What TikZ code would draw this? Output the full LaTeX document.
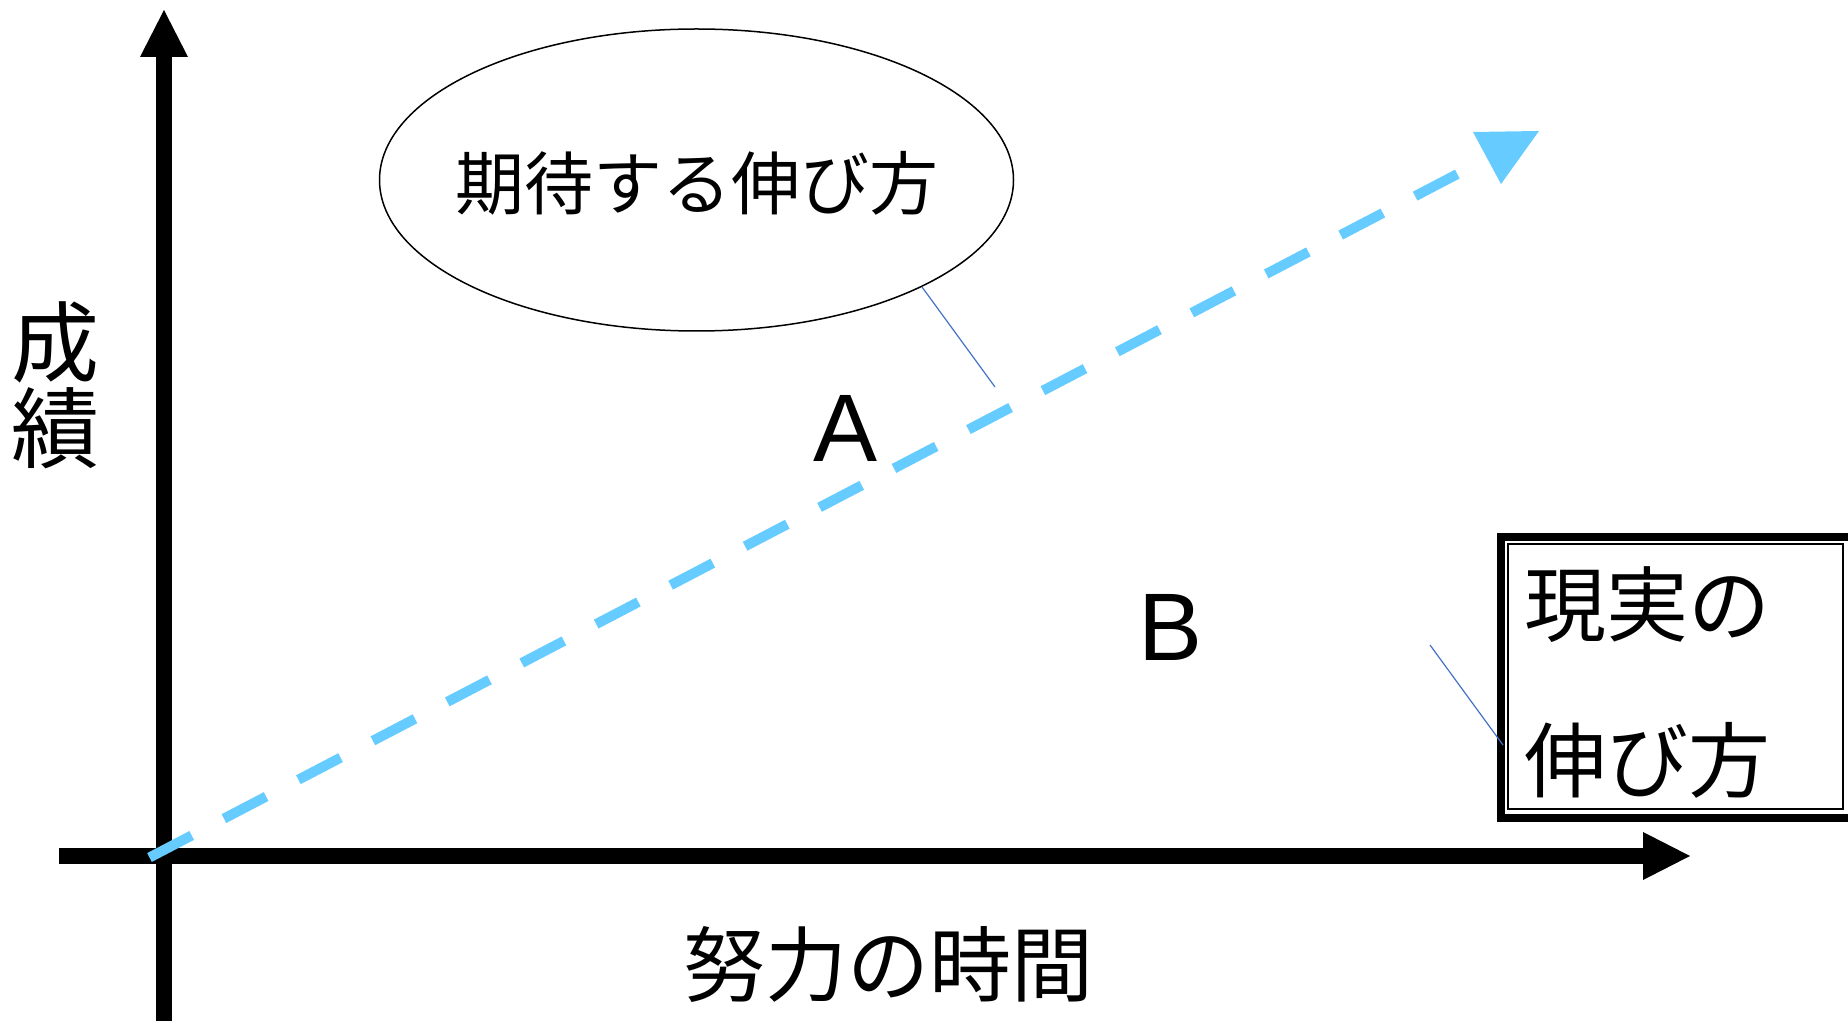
\documentclass[tikz,border=0pt]{standalone}
\usepackage{fontspec}
\usetikzlibrary{shapes.geometric}
\setmainfont{Noto Sans CJK JP}
\newfontfamily\latinsans{Liberation Sans}
\definecolor{dashblue}{HTML}{66CCFF}
\definecolor{leaderblue}{HTML}{4472C4}
\begin{document}
\begin{tikzpicture}[x=0.5pt,y=-0.5pt,
  axisline/.style={line width=8pt,black},
  axishead/.style={fill=black,draw=none},
  leader/.style={leaderblue,line width=0.6pt},
  jlabel/.style={inner sep=0pt,anchor=base},
  boxtext/.style={inner sep=0pt,anchor=base west,font=\fontsize{41}{48}\selectfont},
  bigletter/.style={inner sep=0pt,anchor=base,font=\latinsans\fontsize{48}{56}\selectfont},
  expect/.style={dashblue,line width=5pt,dash pattern=on 23.8pt off 18.2pt}]
\useasboundingbox (0,0) rectangle (1848,1021);
% axes
\coordinate (ybot) at (164,1021);
\coordinate (ytop) at (164,57);
\coordinate (xleft) at (59,856);
\coordinate (xright) at (1643,856);
\draw[axisline] (ybot) -- (ytop);
\fill[axishead] (140,57) -- (188,57) -- (164,10) -- cycle;
\draw[axisline] (xleft) -- (xright);
\fill[axishead] (1643,832) -- (1643,880) -- (1690,856) -- cycle;
% dashed expected-growth line
\coordinate (dstart) at (149.5,857.5);
\coordinate (dend) at (1457.5,174);
\draw[expect] (dstart) -- (dend);
\fill[dashblue] (1473,132) -- (1539,131) -- (1501,184) -- cycle;
% ellipse
\node[draw,line width=0.75pt,ellipse,minimum width=317pt,minimum height=151pt,inner sep=0pt] (ell) at (696.5,180) {};
\node[jlabel,font=\fontsize{34.5}{40}\selectfont] (exptext) at (697,210) {期待する伸び方};
\coordinate (la1) at (922,287);
\coordinate (la2) at (995,387);
\draw[leader] (la1) -- (la2);
% labels
\node[bigletter] (A) at (846,462) {A};
\node[bigletter] (B) at (1171,660) {B};
\node[jlabel,font=\fontsize{44}{50}\selectfont] (seiseki1) at (55,376) {成};
\node[jlabel,font=\fontsize{44}{50}\selectfont] (seiseki2) at (55,462) {績};
\node[jlabel,font=\fontsize{41}{48}\selectfont] (xlabel) at (888,995) {努力の時間};
% reality box
\draw[line width=4pt] (1501,537) rectangle (1856,817.5);
\draw[line width=1pt] (1508,544) rectangle (1843,809);
\node[boxtext] (real1) at (1524,635) {現実の};
\node[boxtext] (real2) at (1524,791) {伸び方};
\coordinate (lb1) at (1430,645);
\coordinate (lb2) at (1503,745);
\draw[leader] (lb1) -- (lb2);
\end{tikzpicture}
\end{document}
